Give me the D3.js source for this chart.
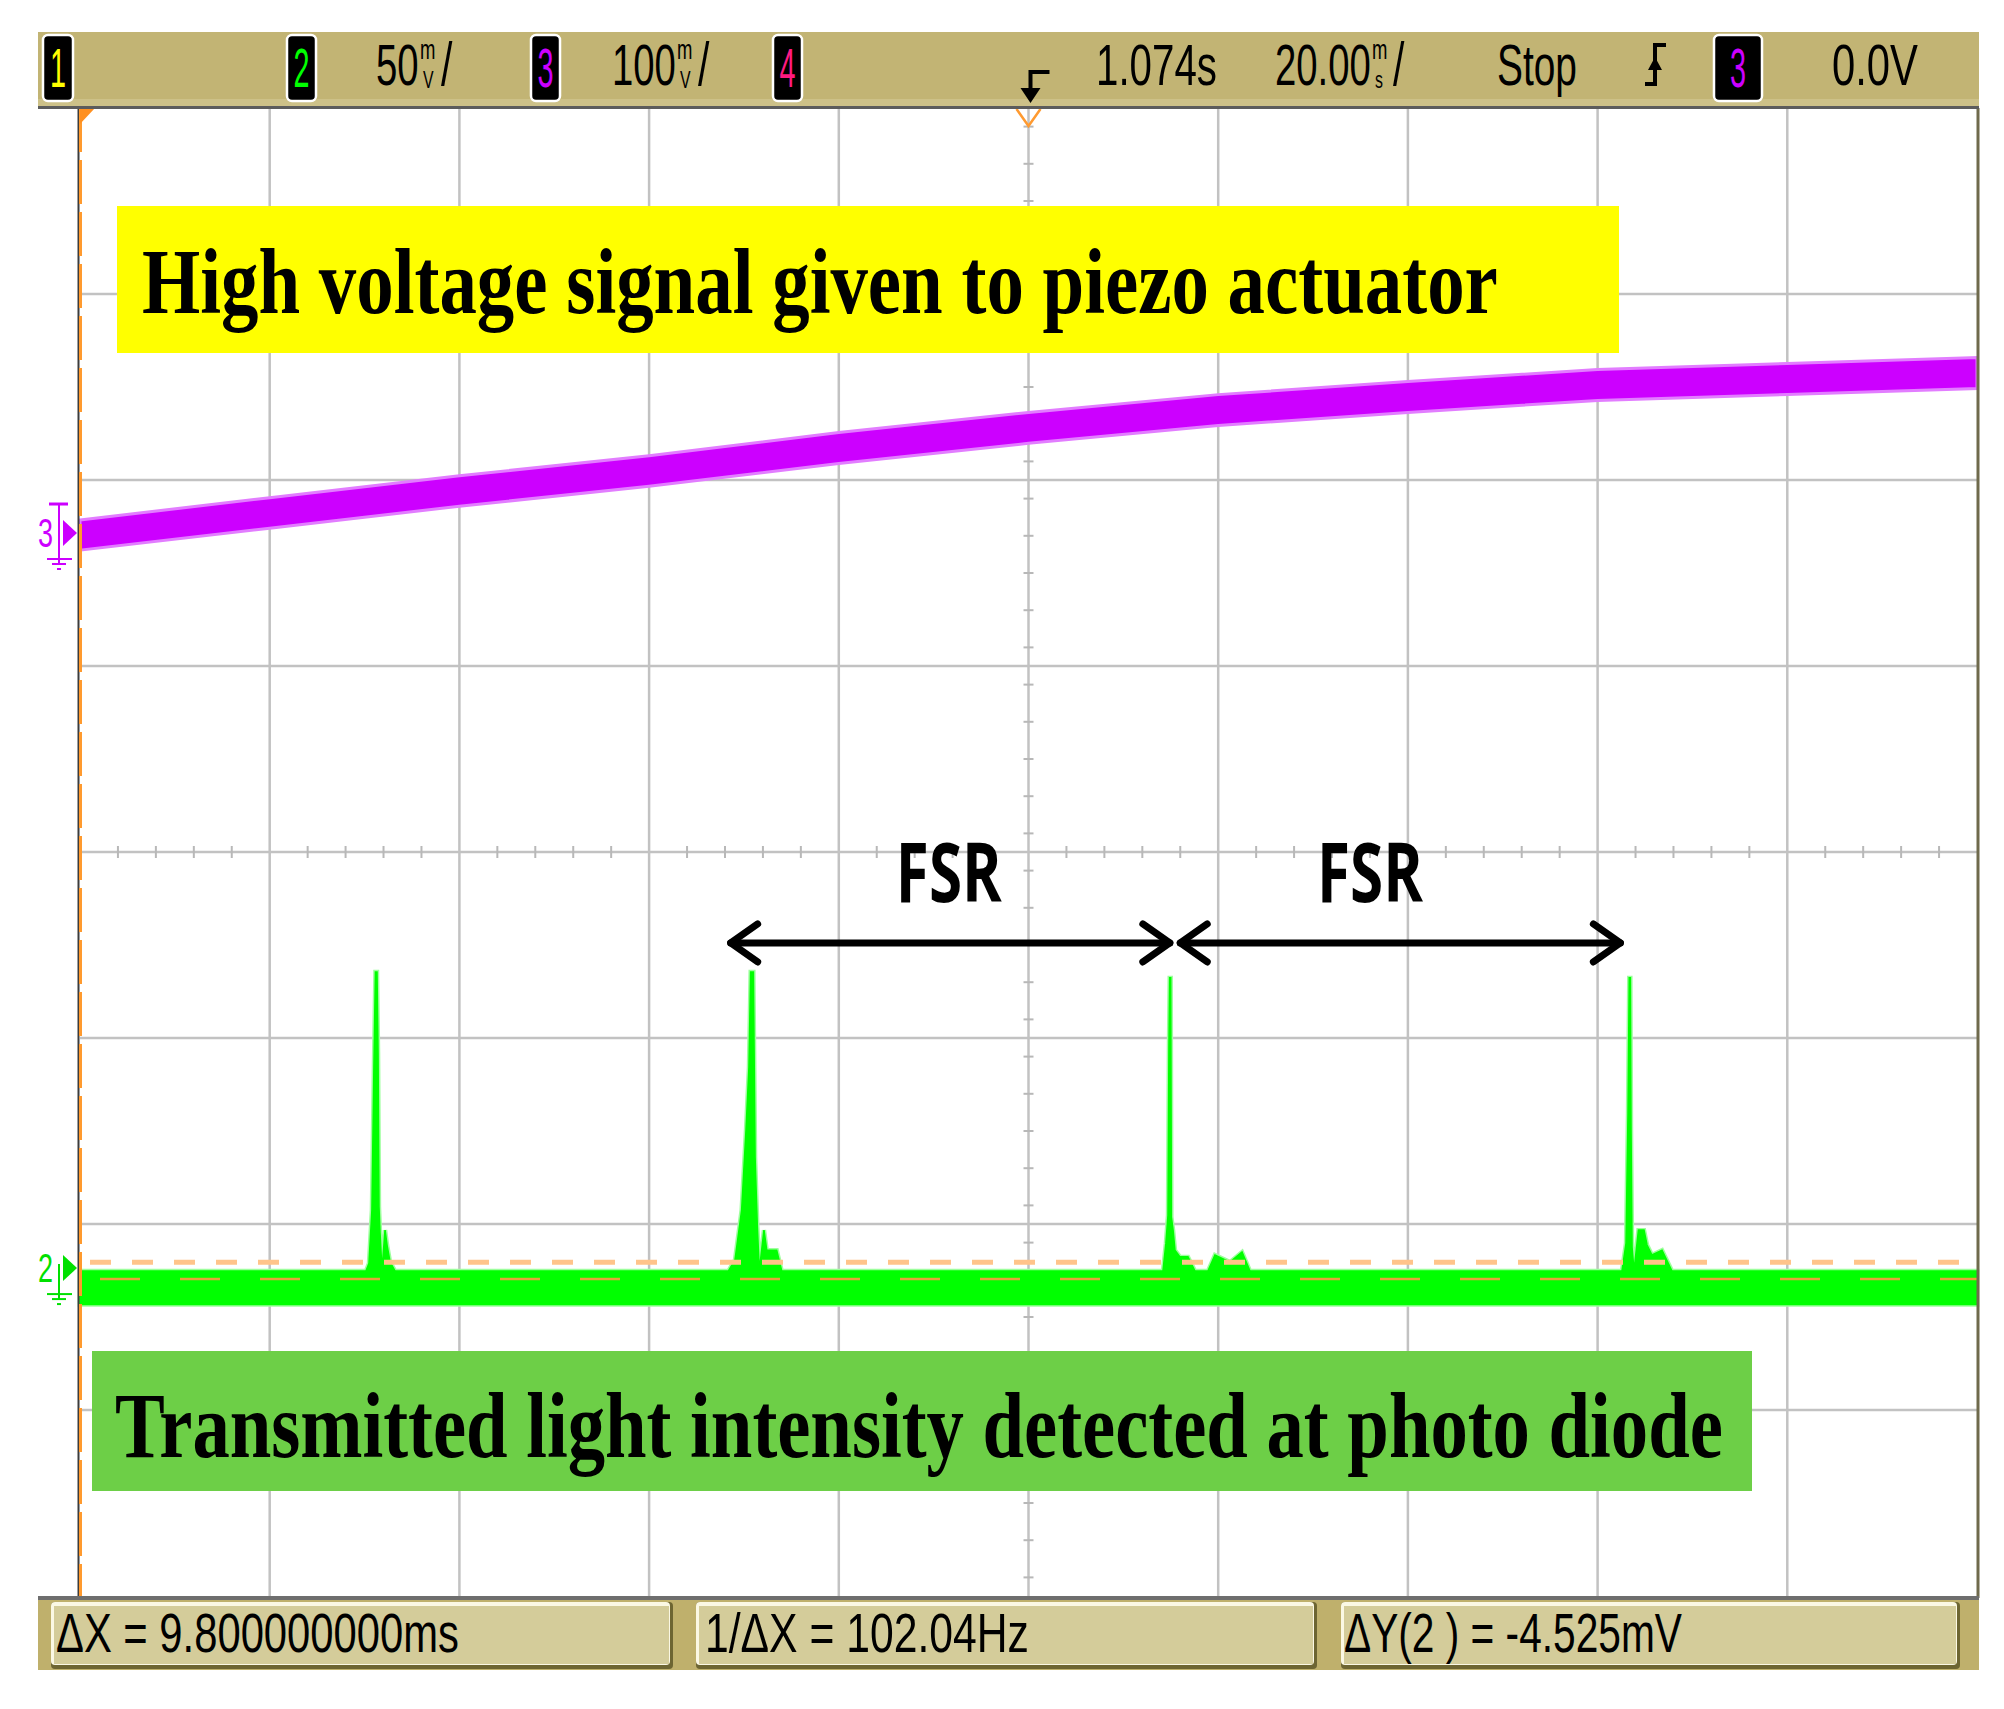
<!DOCTYPE html>
<html>
<head>
<meta charset="utf-8">
<script src="https://cdn.jsdelivr.net/npm/d3@7/dist/d3.min.js"></script>
<style>
  html, body { margin: 0; padding: 0; background: #fff; }
  svg { display: block; }
</style>
</head>
<body>
<svg id="scope" width="2004" height="1709"></svg>
<script>
// Scope capture: piezo ramp (ch3) and cavity transmission (ch2)

// channel 3, 100 mV/div: band envelope
const ch3Time = [-100, -80, -60, -40, -20, 0, 20, 40, 60, 80, 100];
const ch3Upper = [7.0, 19.0, 30.8, 41.5, 54.0, 64.8, 74.4, 81.4, 87.9, 91.1, 94.3];
const ch3Lower = [-9.2, 2.6, 14.4, 25.1, 37.4, 48.2, 57.8, 64.8, 71.3, 74.5, 77.7];

// channel 2, 50 mV/div: top of the noise band incl. transmission peaks
const ch2Time = [
  -100,
  -69.85, -69.53, -69.22, -69.01, -68.85, -68.69, -68.58, -68.48, -68.37, -68.16, -67.84, -67.63, -67.31, -66.78,
  -31.65, -30.94, -30.24, -29.78, -29.47, -29.29, -29.01, -28.83, -28.59, -28.38, -27.89, -27.60, -26.55, -26.02,
  14.18, 14.49, 14.71, 14.81, 14.89, 14.99, 15.06, 15.24, 15.44, 15.97, 16.81, 17.55, 18.92, 19.66, 21.24, 22.51, 23.35,
  62.57, 63.00, 63.21, 63.34, 63.45, 63.52, 63.63, 63.84, 64.31, 64.89, 65.21, 65.73, 66.79, 67.84,
  100
];
const ch2Upper = [
  -0.8,
  -0.8, 1.3, 15.6, 54.0, 79.6, 79.6, 57.8, 16.4, 9.4, -0.8, 10.2, 6.2, 1.6, -0.8,
  -0.8, 2.2, 15.6, 37.1, 54.0, 79.6, 79.6, 29.8, 11.0, -0.8, 10.2, 4.8, 4.8, -0.8,
  -0.8, 6.7, 14.2, 59.4, 78.0, 78.0, 13.7, 10.2, 4.8, 3.0, 3.0, -0.8, -0.8, 3.5, 1.6, 4.3, -0.8,
  -0.8, 6.7, 41.7, 78.0, 78.0, 37.1, 5.6, -0.8, 10.2, 10.2, 6.2, 3.5, 4.8, -0.8,
  -0.8
];
const ch2Floor = -9.8;

// Y cursors on ch2 (mV)
const cursorY = [1.6, -2.925];

// FSR arrows (ms), their level on ch2 (mV) and label centres (ms)
const fsrStart = [-31.4, 16.0];
const fsrEnd = [14.9, 62.4];
const fsrLevel = 87.4;
const fsrLabelAt = [-8.4, 36.0];
const fsrLabels = ['FSR', 'FSR'];

// readouts
const statusTexts = ['\u0394X = 9.800000000ms', '1/\u0394X = 102.04Hz', '\u0394Y(2 ) = -4.525mV'];

const svg = d3.select('#scope');
const pLeft = 80, pRight = 1977, pTop = 108, pBottom = 1596;

const x = d3.scaleLinear().domain([-100, 100]).range([pLeft, pRight]);
const yDiv = d3.scaleLinear().domain([-4, 4]).range([pBottom, pTop]);
// ground markers: ch2 at -2.237 div, ch3 at +1.715 div
const y2 = d3.scaleLinear().domain([(-4 + 2.237) * 50, (4 + 2.237) * 50]).range([pBottom, pTop]);
const y3 = d3.scaleLinear().domain([(-4 - 1.715) * 100, (4 - 1.715) * 100]).range([pBottom, pTop]);

const SANS = "'Liberation Sans', Arial, sans-serif";

// text squeezed horizontally to a given width (scope fonts are condensed)
function txt(g, s, x0, base, size, len, fill, family, weight) {
  const t = g.append('text')
    .attr('font-size', size)
    .attr('font-family', family || SANS)
    .attr('font-weight', weight || 'normal')
    .attr('fill', fill || '#000')
    .text(s);
  const w = t.node().getComputedTextLength() || len;
  t.attr('transform', `translate(${x0},${base}) scale(${len / w},1)`);
  return t;
}

// ---- grid ----
const grid = svg.append('g');
grid.selectAll('.vline')
  .data(d3.range(-80, 100, 20))
  .join('line')
  .attr('x1', (d) => x(d)).attr('x2', (d) => x(d))
  .attr('y1', pTop).attr('y2', pBottom)
  .attr('stroke', '#c2c2c2').attr('stroke-width', 2.5);
grid.selectAll('.hline')
  .data(d3.range(-3, 4, 1))
  .join('line')
  .attr('x1', pLeft).attr('x2', pRight)
  .attr('y1', (d) => yDiv(d)).attr('y2', (d) => yDiv(d))
  .attr('stroke', '#c2c2c2').attr('stroke-width', 2.5);

// minor ticks on centre lines
grid.selectAll('.xminor')
  .data(d3.range(-96, 100, 4).filter((d) => d % 20 !== 0))
  .join('line')
  .attr('x1', (d) => x(d)).attr('x2', (d) => x(d))
  .attr('y1', yDiv(0) - 6).attr('y2', yDiv(0) + 6)
  .attr('stroke', '#b8b8b8').attr('stroke-width', 2);
grid.selectAll('.yminor')
  .data(d3.range(-39, 40, 2).filter((d) => d % 10 !== 0).map((d) => d / 10))
  .join('line')
  .attr('x1', x(0) - 5).attr('x2', x(0) + 5)
  .attr('y1', (d) => yDiv(d)).attr('y2', (d) => yDiv(d))
  .attr('stroke', '#b8b8b8').attr('stroke-width', 2);

// ---- traces ----
const ch3Area = d3.area()
  .x((d, i) => x(ch3Time[i]))
  .y0((d, i) => y3(ch3Lower[i]))
  .y1((d, i) => y3(ch3Upper[i]));
svg.append('path')
  .attr('d', ch3Area(ch3Time))
  .attr('fill', '#cc00ff')
  .attr('stroke', '#e27dff').attr('stroke-width', 3);

const ch2Area = d3.area()
  .x((d, i) => x(ch2Time[i]))
  .y0(y2(ch2Floor))
  .y1((d, i) => y2(ch2Upper[i]));
svg.append('path')
  .attr('d', ch2Area(ch2Time))
  .attr('fill', 'none')
  .attr('stroke', '#9dff9d').attr('stroke-width', 4.5);
svg.append('path')
  .attr('d', ch2Area(ch2Time))
  .attr('fill', '#00ff00')
  .attr('stroke', '#00ff00').attr('stroke-width', 1.6);

// ---- cursors ----
svg.append('line')
  .attr('x1', pLeft + 10).attr('x2', pRight)
  .attr('y1', y2(cursorY[0])).attr('y2', y2(cursorY[0]))
  .attr('stroke', '#ffc48a').attr('stroke-width', 5)
  .attr('stroke-dasharray', '21 21');
svg.append('line')
  .attr('x1', pLeft + 20).attr('x2', pRight)
  .attr('y1', y2(cursorY[1])).attr('y2', y2(cursorY[1]))
  .attr('stroke', '#e4a43a').attr('stroke-width', 2.5)
  .attr('stroke-dasharray', '40 40');

// ---- frame ----
svg.append('line')
  .attr('x1', pLeft - 1.5).attr('x2', pLeft - 1.5).attr('y1', pTop).attr('y2', pBottom)
  .attr('stroke', '#3c3c3c').attr('stroke-width', 2);
svg.append('line')
  .attr('x1', pLeft + 0.5).attr('x2', pLeft + 0.5).attr('y1', pTop).attr('y2', pBottom)
  .attr('stroke', '#ff9a2e').attr('stroke-width', 3)
  .attr('stroke-dasharray', '44 8');
svg.append('line')
  .attr('x1', pRight + 1).attr('x2', pRight + 1).attr('y1', pTop).attr('y2', pBottom + 2)
  .attr('stroke', '#6f6a4c').attr('stroke-width', 3);
svg.append('polygon')
  .attr('points', `${pLeft},${pTop} ${pLeft + 15},${pTop} ${pLeft},${pTop + 16}`)
  .attr('fill', '#ff9020');
svg.append('path')
  .attr('d', `M${x(0) - 12},${pTop + 1} L${x(0)},${pTop + 18} L${x(0) + 12},${pTop + 1}`)
  .attr('fill', 'none').attr('stroke', '#ff9a30').attr('stroke-width', 2.5);

// ---- channel ground markers ----
function marker(num, color, yv, withT) {
  const g = svg.append('g').attr('fill', color).attr('stroke', color);
  txt(g, num, 38, yv + 14, 40, 15, color).attr('stroke', 'none');
  g.append('polygon')
    .attr('points', `63,${yv - 13} 63,${yv + 13} 77,${yv}`).attr('stroke', 'none');
  g.append('line').attr('x1', 59).attr('x2', 59)
    .attr('y1', withT ? yv - 30 : yv - 4).attr('y2', yv + 32).attr('stroke-width', 2);
  if (withT) {
    g.append('line').attr('x1', 49).attr('x2', 68).attr('y1', yv - 29).attr('y2', yv - 29).attr('stroke-width', 3);
  }
  [[47, 72, 26], [52, 66, 31], [57, 61, 36]].forEach(([a, b, o]) => {
    g.append('line').attr('x1', a).attr('x2', b).attr('y1', yv + o).attr('y2', yv + o).attr('stroke-width', 2);
  });
}
marker('3', '#cc00ff', y3(0), true);
marker('2', '#00e000', y2(0), false);

// ---- annotations ----
const SERIF = "'Liberation Serif', 'Times New Roman', serif";
svg.append('rect').attr('x', 117).attr('y', 206).attr('width', 1502).attr('height', 147).attr('fill', '#ffff00');
txt(svg, 'High voltage signal given to piezo actuator', 142, 313, 94, 1356, '#000', SERIF, 'bold');

svg.append('rect').attr('x', 92).attr('y', 1351).attr('width', 1660).attr('height', 140).attr('fill', '#6dcf47');
txt(svg, 'Transmitted light intensity detected at photo diode', 115, 1457, 94, 1608, '#000', SERIF, 'bold');

const fsr = svg.append('g').attr('stroke', '#000').attr('stroke-width', 7)
  .attr('stroke-linecap', 'round').attr('stroke-linejoin', 'round').attr('fill', 'none');
const yf = y2(fsrLevel);
fsrStart.forEach((s, i) => {
  const a = x(s), b = x(fsrEnd[i]);
  fsr.append('line').attr('x1', a).attr('x2', b).attr('y1', yf).attr('y2', yf);
  fsr.append('path').attr('d', `M${a + 27},${yf - 19} L${a},${yf} L${a + 27},${yf + 19}`);
  fsr.append('path').attr('d', `M${b - 27},${yf - 19} L${b},${yf} L${b - 27},${yf + 19}`);
  txt(svg, fsrLabels[i], x(fsrLabelAt[i]) - 53, 902, 82, 106, '#000', "'Open Sans', 'Liberation Sans', sans-serif", 'bold');
});

// ---- top status bar ----
const topBar = svg.append('g');
topBar.append('rect').attr('x', 38).attr('y', 32).attr('width', 1941).attr('height', 74).attr('fill', '#c2b474');
topBar.append('rect').attr('x', 38).attr('y', 99).attr('width', 1941).attr('height', 7).attr('fill', '#cdc188');
topBar.append('rect').attr('x', 38).attr('y', 106).attr('width', 1941).attr('height', 3).attr('fill', '#5c5c5c');

function chanBox(num, color, x0, w) {
  topBar.append('rect').attr('x', x0).attr('y', 35).attr('width', w).attr('height', 66).attr('rx', 5)
    .attr('fill', '#000').attr('stroke', '#fff').attr('stroke-width', 2.5);
  txt(topBar, num, x0 + w / 2 - 8, 87, 56, 16, color);
}
chanBox('1', '#ffff00', 43, 30);
chanBox('2', '#00ff00', 287, 29);
chanBox('3', '#cc00ff', 531, 29);
chanBox('4', '#ff1a80', 773, 29);
chanBox('3', '#cc00ff', 1714, 48);

// value with a stacked unit (m over V / s) and trailing slash, as one text
const SQ = 0.66;
function scaleText(x0, num, up, down, mAt) {
  const t = topBar.append('text')
    .attr('transform', `translate(${x0},85) scale(${SQ},1)`)
    .attr('font-family', SANS).attr('font-size', 58).attr('fill', '#000');
  t.append('tspan').attr('x', 0).attr('y', 0).text(num);
  t.append('tspan').attr('x', (mAt - x0) / SQ).attr('y', -26).attr('font-size', 28).text(up);
  t.append('tspan').attr('x', (mAt + 3 - x0) / SQ).attr('y', 3).attr('font-size', 24).text(down);
  t.append('tspan').attr('x', (mAt + 21 - x0) / SQ).attr('y', 0).attr('font-size', 62).text('/');
}
scaleText(376, '50', 'm', 'V', 420);
scaleText(612, '100', 'm', 'V', 677);
scaleText(1275, '20.00', 'm', 's', 1372);

txt(topBar, '1.074s', 1096, 85, 58, 121, '#000');
txt(topBar, 'Stop', 1497, 85, 58, 80, '#000');
txt(topBar, '0.0V', 1832, 85, 58, 86, '#000');

// trigger position arrow
topBar.append('path')
  .attr('d', `M${x(0) + 21},72 H${x(0) + 2} V92`)
  .attr('fill', 'none').attr('stroke', '#000').attr('stroke-width', 4);
topBar.append('polygon')
  .attr('points', `${x(0) - 8},88 ${x(0) + 12},88 ${x(0) + 2},103`).attr('fill', '#000');

// trigger slope (rising)
topBar.append('path')
  .attr('d', 'M1645,84 H1655 V45 H1666')
  .attr('fill', 'none').attr('stroke', '#000').attr('stroke-width', 4);
topBar.append('polygon').attr('points', '1648,70 1662,70 1655,57').attr('fill', '#000');

// ---- bottom readout bar ----
const botBar = svg.append('g');
botBar.append('rect').attr('x', 38).attr('y', 1596).attr('width', 1941).attr('height', 4).attr('fill', '#6e6e6e');
botBar.append('rect').attr('x', 38).attr('y', 1600).attr('width', 1941).attr('height', 70).attr('fill', '#bfb06c');
const boxX = [51, 696, 1341];
const boxW = [622, 621, 619];
boxX.forEach((bx, i) => {
  botBar.append('rect').attr('x', bx).attr('y', 1602).attr('width', boxW[i]).attr('height', 67).attr('rx', 4).attr('fill', '#6d6532');
  botBar.append('rect').attr('x', bx).attr('y', 1602).attr('width', boxW[i] - 3).attr('height', 63).attr('rx', 4).attr('fill', '#fbf8e4');
  botBar.append('rect').attr('x', bx + 3).attr('y', 1606).attr('width', boxW[i] - 7).attr('height', 58).attr('fill', '#d4cc9a');
});
const textX = [56, 705, 1344];
const textW = [403, 324, 338];
statusTexts.forEach((s, i) => {
  txt(botBar, s, textX[i], 1652, 55, textW[i], '#000');
});
</script>
</body>
</html>
